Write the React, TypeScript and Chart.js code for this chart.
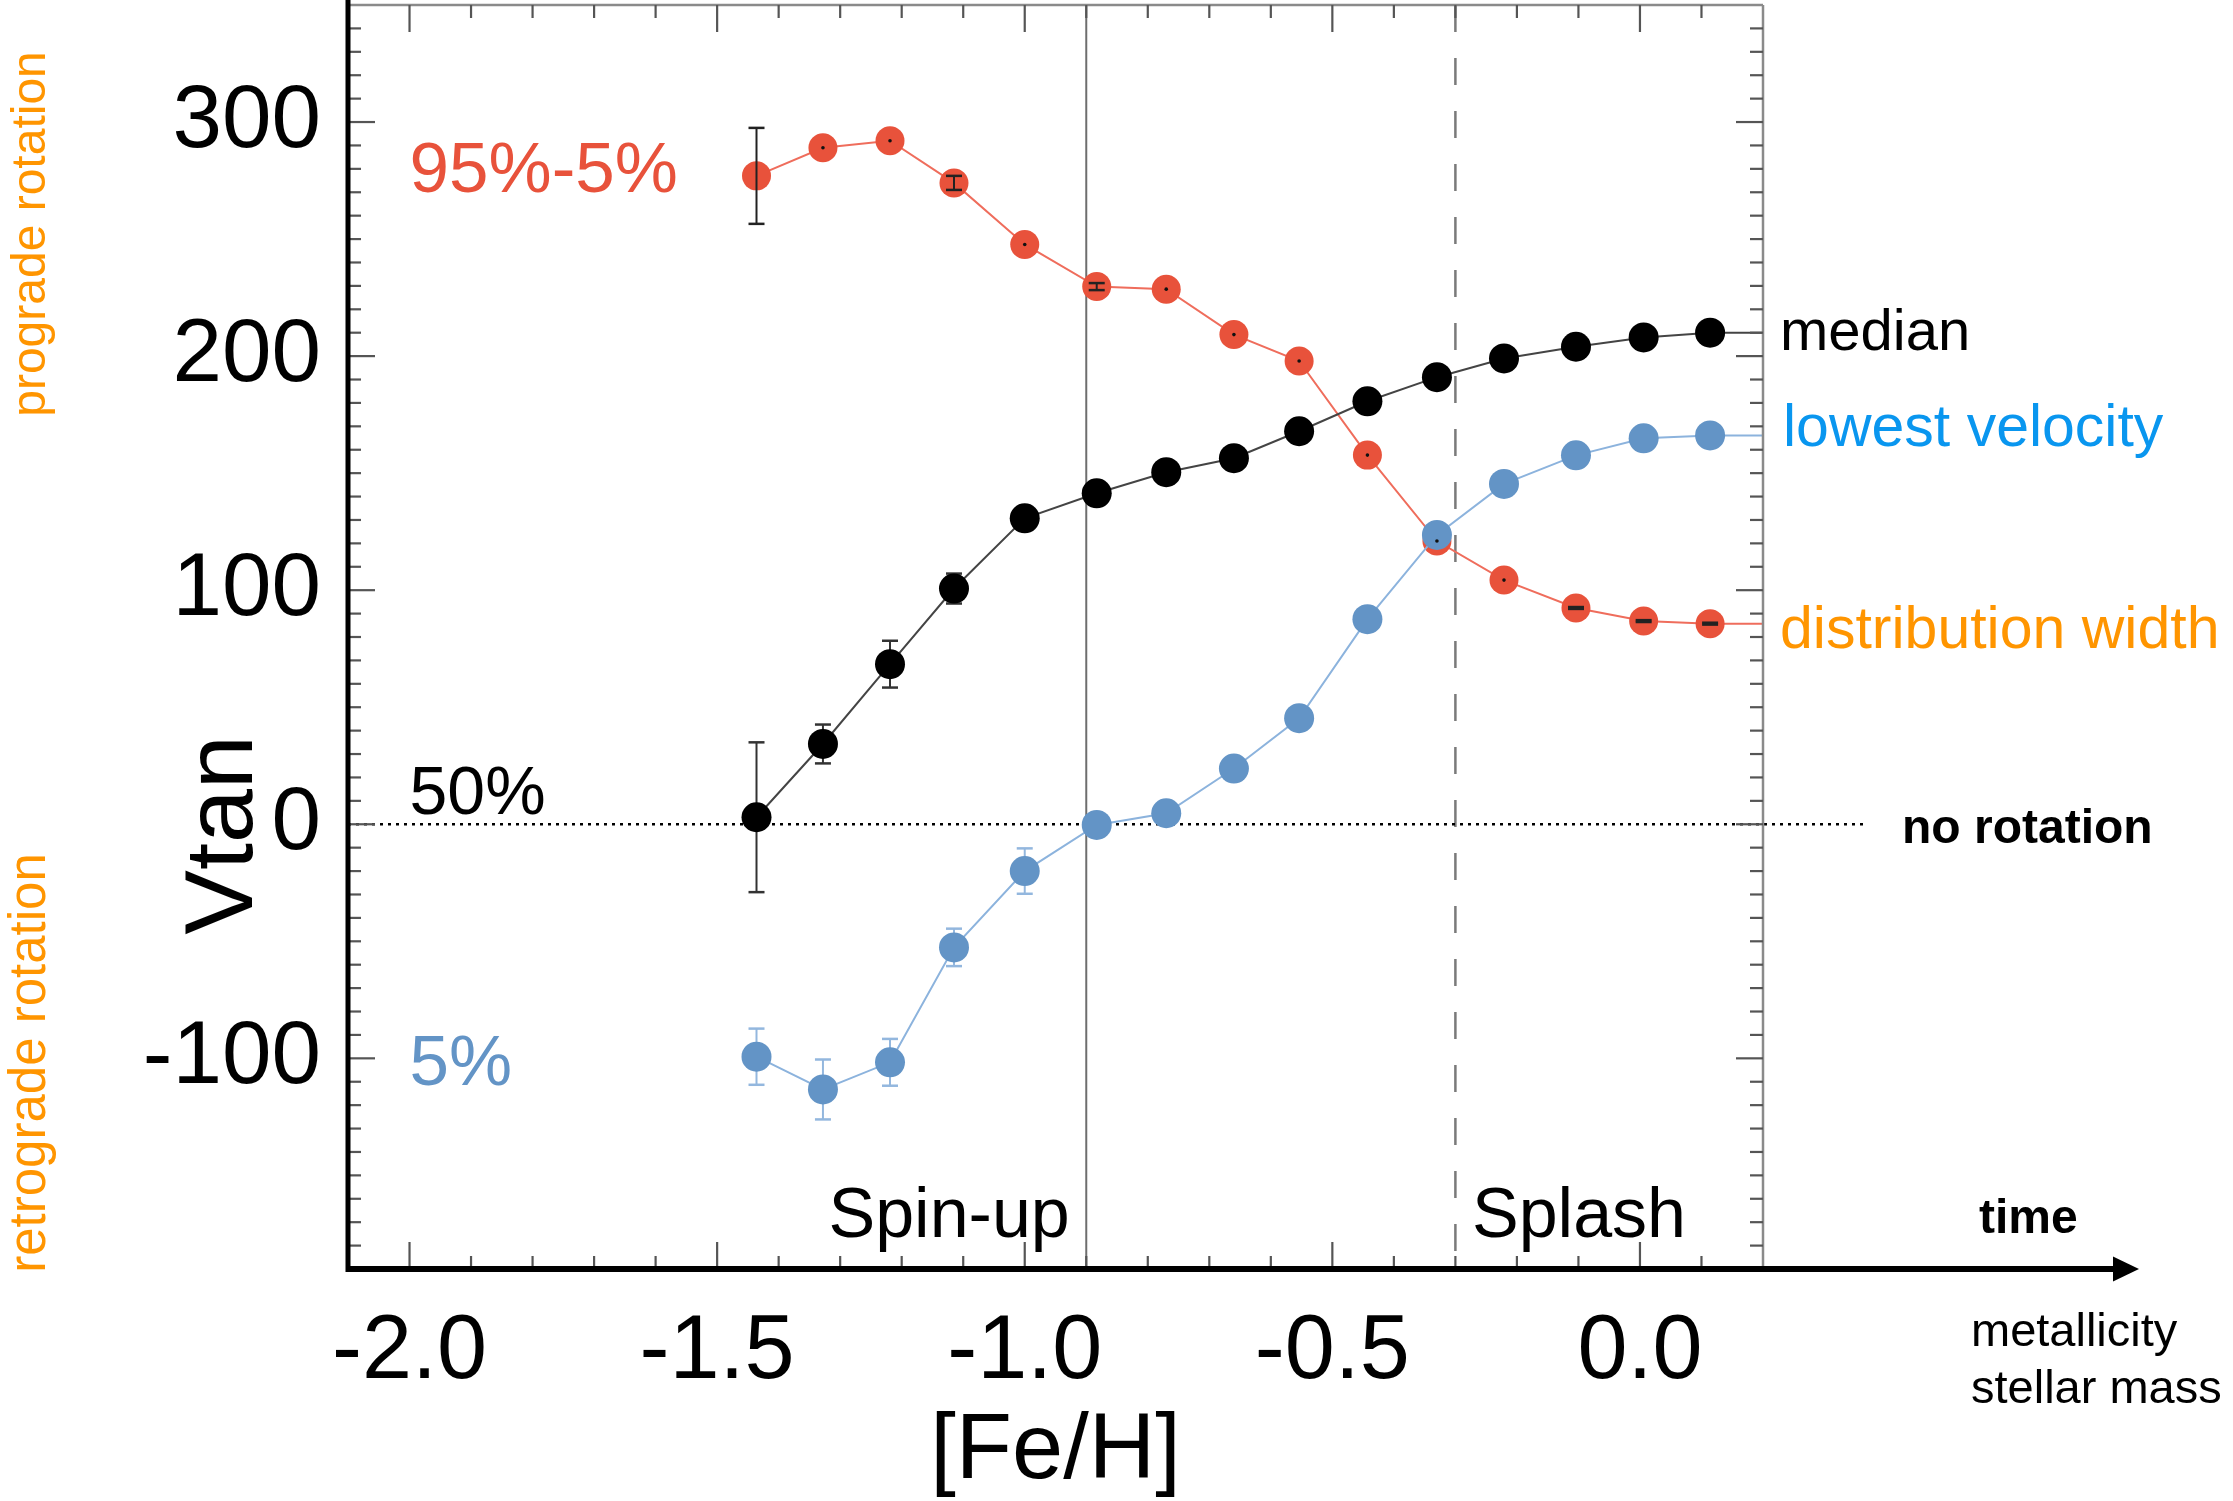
import React, { useEffect, useRef } from 'react';
import { Chart, registerables } from 'chart.js';

Chart.register(...registerables);

const W = 2233;
const H = 1501;
const FONT = '"Liberation Sans", Arial, Helvetica, sans-serif';

// ---- data ----
const feH = [-1.436, -1.328, -1.219, -1.115, -1.0, -0.883, -0.77, -0.66, -0.554, -0.443, -0.33, -0.221, -0.104, 0.006, 0.114];
const width9505 = [277, 289, 292, 274, 247.7, 229.7, 228.6, 209.2, 197.9, 157.7, 121, 104.3, 92.4, 86.8, 85.7];
const width9505Err = [20.5, 0, 0, 3, 0, 1.5, 0, 0, 0, 0, 0, 0, 0.4, 0.4, 0.4];
const median = [3, 34.3, 68.4, 100.7, 130.7, 141.4, 150.4, 156.4, 167.9, 180.7, 191, 199, 204, 208, 210];
const medianErr = [32, 8.3, 10, 6.4, 0, 0, 0, 0, 0, 0, 0, 0, 0, 0, 0];
const p5 = [-99.3, -113.3, -101.7, -52.6, -20, -0.3, 4.7, 23.8, 45.3, 87.6, 123.6, 145.4, 157.6, 164.9, 166.1];
const p5Err = [12, 12.8, 10, 8, 9.7, 0, 0, 0, 0, 0, 0, 0, 0, 0, 0];

const X_MIN = -2.1;
const X_MAX = 0.2;
const Y_MIN = -190;
const Y_MAX = 350;
const xTickValues = [-2.0, -1.5, -1.0, -0.5, 0.0];
const yTickValues = [-100, 0, 100, 200, 300];
const X_MINOR_STEP = 0.1;
const Y_MINOR_STEP = 10;
const SPIN_UP_FEH = -0.9;
const SPLASH_FEH = -0.3;

const RED = '#e8523b';
const RED_LINE = '#ef6d5c';
const BLUE = '#6394c6';
const BLUE_LINE = '#8cb3dd';
const BLUE_ERR = '#93b7de';
const ORANGE = '#ff9500';
const BRIGHT_BLUE = '#0996ef';

function drawText(ctx: CanvasRenderingContext2D, s: string, x: number, y: number, font: string, color: string, align: CanvasTextAlign = 'left', rot = 0) {
  ctx.save();
  ctx.font = font;
  ctx.fillStyle = color;
  ctx.textAlign = align;
  ctx.textBaseline = 'alphabetic';
  ctx.translate(x, y);
  if (rot) ctx.rotate(rot);
  ctx.fillText(s, 0, 0);
  ctx.restore();
}

function seg(ctx: CanvasRenderingContext2D, x1: number, y1: number, x2: number, y2: number, color: string, w: number, dash: number[] = []) {
  ctx.save();
  ctx.strokeStyle = color;
  ctx.lineWidth = w;
  ctx.setLineDash(dash);
  ctx.beginPath();
  ctx.moveTo(x1, y1);
  ctx.lineTo(x2, y2);
  ctx.stroke();
  ctx.restore();
}

function errorBars(ctx: CanvasRenderingContext2D, xs: any, ys: any, vals: number[], errs: number[], color: string) {
  for (let i = 0; i < feH.length; i++) {
    const e = errs[i];
    if (e <= 0) continue;
    const px = xs.getPixelForValue(feH[i]);
    const top = ys.getPixelForValue(vals[i] + e);
    const bot = ys.getPixelForValue(vals[i] - e);
    seg(ctx, px, top, px, bot, color, 2);
    seg(ctx, px - 8, top, px + 8, top, color, 2.5);
    seg(ctx, px - 8, bot, px + 8, bot, color, 2.5);
  }
}

function minorValues(min: number, max: number, step: number) {
  const out: number[] = [];
  const i0 = Math.ceil(min / step - 1e-6);
  const i1 = Math.floor(max / step + 1e-6);
  for (let i = i0; i <= i1; i++) {
    const v = i * step;
    if (Math.abs(v - min) < 1e-6 || Math.abs(v - max) < 1e-6) continue;
    out.push(v);
  }
  return out;
}

const overlay = {
  id: 'overlay',
  beforeDatasetsDraw(chart: any) {
    const { ctx, chartArea: a, scales } = chart;
    const x = scales.x;
    const y = scales.y;
    const xs = x.getPixelForValue(SPIN_UP_FEH);
    seg(ctx, xs, a.top, xs, a.bottom, '#6e6e6e', 2);
    const xd = x.getPixelForValue(SPLASH_FEH);
    seg(ctx, xd, a.top, xd, a.bottom, '#7a7a7a', 2.5, [27, 26]);
    const y0 = y.getPixelForValue(0);
    seg(ctx, a.left, y0, a.right + 105, y0, '#000', 2.5, [3, 5]);
    const last = feH.length - 1;
    const lx = x.getPixelForValue(feH[last]);
    seg(ctx, lx, y.getPixelForValue(median[last]), a.right, y.getPixelForValue(median[last]), '#444', 2);
    seg(ctx, lx, y.getPixelForValue(p5[last]), a.right, y.getPixelForValue(p5[last]), BLUE_LINE, 2);
    seg(ctx, lx, y.getPixelForValue(width9505[last]), a.right, y.getPixelForValue(width9505[last]), RED_LINE, 2);
    errorBars(ctx, x, y, median, medianErr, '#333');
    errorBars(ctx, x, y, p5, p5Err, BLUE_ERR);
  },
  afterDatasetsDraw(chart: any) {
    const { ctx, chartArea: a, scales } = chart;
    const x = scales.x;
    const y = scales.y;
    errorBars(ctx, x, y, width9505, width9505Err, '#222');
    for (let i = 0; i < feH.length; i++) {
      if (width9505Err[i] > 0) continue;
      ctx.save();
      ctx.fillStyle = '#111';
      ctx.beginPath();
      ctx.arc(x.getPixelForValue(feH[i]), y.getPixelForValue(width9505[i]), 1.8, 0, Math.PI * 2);
      ctx.fill();
      ctx.restore();
    }

    seg(ctx, a.left, a.top, a.right, a.top, '#8a8a8a', 2.5);
    seg(ctx, a.right, a.top, a.right, a.bottom, '#8a8a8a', 2.5);
    const tickCol = '#555';
    const MAJ = 27;
    const MIN = 13;
    const isMajorX = (v: number) => xTickValues.some((t) => Math.abs(t - v) < 1e-6);
    const isMajorY = (v: number) => yTickValues.some((t) => Math.abs(t - v) < 1e-6);
    for (const v of minorValues(X_MIN, X_MAX, X_MINOR_STEP)) {
      const px = x.getPixelForValue(v);
      const L = isMajorX(v) ? MAJ : MIN;
      seg(ctx, px, a.bottom, px, a.bottom - L, tickCol, 2.2);
      seg(ctx, px, a.top, px, a.top + L, tickCol, 2.2);
    }
    for (const v of minorValues(Y_MIN, Y_MAX, Y_MINOR_STEP)) {
      const py = y.getPixelForValue(v);
      const L = isMajorY(v) ? MAJ : MIN;
      seg(ctx, a.left, py, a.left + L, py, tickCol, 2.2);
      seg(ctx, a.right, py, a.right - L, py, tickCol, 2.2);
    }
    seg(ctx, a.left, 0, a.left, a.bottom + 3, '#000', 5);
    const arrowTip = 2139;
    seg(ctx, a.left - 2, a.bottom, arrowTip - 24, a.bottom, '#000', 6);
    ctx.save();
    ctx.fillStyle = '#000';
    ctx.beginPath();
    ctx.moveTo(arrowTip, a.bottom);
    ctx.lineTo(arrowTip - 26, a.bottom - 12.5);
    ctx.lineTo(arrowTip - 26, a.bottom + 12.5);
    ctx.closePath();
    ctx.fill();
    ctx.restore();

    const f = (size: number, bold = false) => `${bold ? 'bold ' : ''}${size}px ${FONT}`;
    drawText(ctx, '95%-5%', x.getPixelForValue(-2.0), y.getPixelForValue(270), f(71), RED);
    drawText(ctx, '50%', x.getPixelForValue(-2.0), y.getPixelForValue(4.4), f(68), '#000');
    drawText(ctx, '5%', x.getPixelForValue(-2.0), y.getPixelForValue(-111.3), f(71), BLUE);
    drawText(ctx, 'Spin-up', x.getPixelForValue(-1.319), y.getPixelForValue(-176.4), f(70), '#000');
    drawText(ctx, 'Splash', x.getPixelForValue(-0.273), y.getPixelForValue(-176.4), f(70), '#000');

    const rx = a.right + 17;
    drawText(ctx, 'median', rx, 350, f(58), '#000');
    drawText(ctx, 'lowest velocity', rx + 3, 446, f(59), BRIGHT_BLUE);
    drawText(ctx, 'distribution width', rx, 648, f(59), ORANGE);
    drawText(ctx, 'no rotation', 1902, 843, f(48, true), '#000');
    drawText(ctx, 'time', 1979, 1233, f(48, true), '#000');
    drawText(ctx, 'metallicity', 1971, 1346, f(47), '#000');
    drawText(ctx, 'stellar mass', 1971, 1403, f(47), '#000');

    drawText(ctx, 'Vtan', 252, 835, f(97), '#000', 'center', -Math.PI / 2);
    drawText(ctx, 'prograde rotation', 45, 234, f(48), ORANGE, 'center', -Math.PI / 2);
    drawText(ctx, 'retrograde rotation', 45, 1063, f(51), ORANGE, 'center', -Math.PI / 2);
  },
};

export default function App() {
  const ref = useRef<HTMLCanvasElement | null>(null);

  useEffect(() => {
    document.body.style.margin = '0';
    const canvas = ref.current;
    if (!canvas) return;
    const pts = (vals: number[]) => feH.map((v, i) => ({ x: v, y: vals[i] }));
    const chart = new Chart(canvas, {
      type: 'line',
      data: {
        datasets: [
          { label: '5%', data: pts(p5), borderColor: BLUE_LINE, borderWidth: 2, pointBackgroundColor: BLUE, pointBorderColor: BLUE, pointBorderWidth: 0, pointRadius: 15, fill: false, tension: 0 },
          { label: '50%', data: pts(median), borderColor: '#444', borderWidth: 2, pointBackgroundColor: '#000', pointBorderColor: '#000', pointBorderWidth: 0, pointRadius: 15, fill: false, tension: 0 },
          { label: '95%-5%', data: pts(width9505), borderColor: RED_LINE, borderWidth: 2, pointBackgroundColor: RED, pointBorderColor: RED, pointBorderWidth: 0, pointRadius: 14.5, fill: false, tension: 0 },
        ],
      },
      options: {
        animation: false,
        responsive: false,
        maintainAspectRatio: false,
        devicePixelRatio: 1,
        layout: { autoPadding: false, padding: { top: 5, right: 470, left: 0, bottom: 0 } },
        plugins: { legend: { display: false }, tooltip: { enabled: false } },
        events: [],
        scales: {
          x: {
            type: 'linear',
            min: X_MIN,
            max: X_MAX,
            grid: { display: false, drawTicks: false },
            border: { display: false },
            ticks: {
              color: '#000',
              font: { family: FONT, size: 90, lineHeight: 1 },
              padding: 39,
              maxRotation: 0,
              autoSkip: false,
              callback: (v: any) => Number(v).toFixed(1),
            },
            afterBuildTicks: (s: any) => {
              s.ticks = xTickValues.map((v) => ({ value: v }));
            },
            afterFit: (s: any) => {
              s.height = H - 1269;
              s.paddingLeft = 0;
              s.paddingRight = 0;
              s.paddingTop = 0;
              s.paddingBottom = 0;
            },
            title: {
              display: true,
              text: '[Fe/H]',
              color: '#000',
              font: { family: FONT, size: 92, lineHeight: 1 },
              padding: { top: 0, bottom: 2 },
            },
          },
          y: {
            type: 'linear',
            min: Y_MIN,
            max: Y_MAX,
            grid: { display: false, drawTicks: false },
            border: { display: false },
            ticks: {
              color: '#000',
              font: { family: FONT, size: 89, lineHeight: 1 },
              padding: 27,
              autoSkip: false,
            },
            afterBuildTicks: (s: any) => {
              s.ticks = yTickValues.map((v) => ({ value: v }));
            },
            afterFit: (s: any) => {
              s.width = 348;
              s.paddingTop = 0;
              s.paddingBottom = 0;
              s.paddingLeft = 0;
              s.paddingRight = 0;
            },
          },
        },
      } as any,
      plugins: [overlay],
    });
    return () => chart.destroy();
  }, []);

  return <canvas ref={ref} width={W} height={H} style={{ display: 'block', width: W, height: H }} />;
}
